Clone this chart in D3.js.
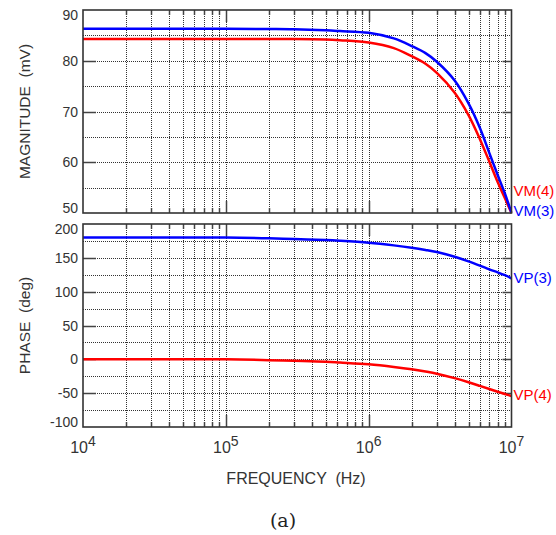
<!DOCTYPE html>
<html>
<head>
<meta charset="utf-8">
<script src="https://cdn.jsdelivr.net/npm/d3@7"></script>
<style>
  html, body { margin: 0; padding: 0; background: #fff; }
  svg { display: block; }
  text { font-family: "Liberation Sans", Arial, sans-serif; }
</style>
</head>
<body>
<svg id="chart" width="556" height="535"></svg>
<script>
// Frequency sweep points (Hz)
const freq = [1e4, 1e5, 2e5, 3e5, 5e5, 6.3e5, 1e6, 1.5e6, 2e6, 2.5e6, 3e6, 4e6, 5e6, 6e6, 7e6, 8e6, 9e6, 1e7];

// Magnitude (mV) of nodes 3 and 4
const vm3 = [86.3, 86.3, 86.25, 86.2, 86.0, 85.85, 85.5, 84.4, 82.9, 81.5, 79.8, 76.1, 71.6, 66.8, 61.8, 57.5, 53.8, 50.0];
const vm4 = [84.3, 84.3, 84.3, 84.3, 84.2, 84.05, 83.6, 82.5, 80.9, 79.4, 77.6, 73.7, 69.3, 64.6, 60.1, 56.1, 52.9, 50.0];

// Phase (deg) of nodes 3 and 4
const vp3 = [180.0, 180.0, 178.8, 177.8, 176.3, 175.2, 172.3, 168.4, 165.0, 161.7, 158.5, 151.5, 144.8, 138.6, 133.0, 128.6, 124.3, 119.7];
const vp4 = [0.0, 0.0, -1.2, -2.2, -3.6, -4.8, -7.4, -11.2, -14.6, -18.0, -21.2, -27.8, -33.8, -39.2, -43.9, -47.9, -51.3, -54.2];

// Axis ticks
const decades = [1e4, 1e5, 1e6, 1e7];
const decadeExp = ["4", "5", "6", "7"];
const magTicks = [50, 60, 70, 80, 90];
const phaseTicks = [-100, -50, 0, 50, 100, 150, 200];

const svg = d3.select("#chart");

const left = 83, right = 511.5;
const x = d3.scaleLog().domain([1e4, 1e7]).range([left, right]);

const panels = [
  {
    top: 10, bottom: 213, domain: [50, 90], ticks: magTicks, gridStep: 5,
    title: "MAGNITUDE  (mV)",
    series: [
      { values: vm4, color: "#ff0000", name: "VM(4)", dy: -22 },
      { values: vm3, color: "#0000ff", name: "VM(3)", dy: -2 }
    ]
  },
  {
    top: 224, bottom: 427, domain: [-100, 200], ticks: phaseTicks, gridStep: 25,
    title: "PHASE  (deg)",
    series: [
      { values: vp3, color: "#0000ff", name: "VP(3)", dy: -1 },
      { values: vp4, color: "#ff0000", name: "VP(4)", dy: -1 }
    ]
  }
];

// Minor x positions: 2..9 within each decade
const minorX = [];
[1e4, 1e5, 1e6].forEach(d => { for (let k = 2; k <= 9; k++) minorX.push(d * k); });
const innerDecades = [1e5, 1e6];

panels.forEach((p, i) => {
  const y = d3.scaleLinear().domain(p.domain).range([p.bottom, p.top]);
  const g = svg.append("g");

  // dotted grid
  const grid = g.append("g")
    .attr("stroke", "#333")
    .attr("stroke-width", 1)
    .attr("stroke-dasharray", "1,1")
    .attr("shape-rendering", "crispEdges");
  minorX.concat(innerDecades).forEach(f => {
    grid.append("line")
      .attr("x1", Math.round(x(f)) + 0.5).attr("x2", Math.round(x(f)) + 0.5)
      .attr("y1", p.top).attr("y2", p.bottom);
  });
  const hVals = d3.range(p.domain[0] + p.gridStep, p.domain[1], p.gridStep);
  hVals.forEach(v => {
    grid.append("line")
      .attr("x1", left).attr("x2", right)
      .attr("y1", Math.round(y(v)) + 0.5).attr("y2", Math.round(y(v)) + 0.5);
  });

  // solid ticks
  const ticks = g.append("g").attr("stroke", "#444").attr("stroke-width", 1.5);
  minorX.forEach(f => {
    const xx = Math.round(x(f)) + 0.5;
    ticks.append("line").attr("x1", xx).attr("x2", xx).attr("y1", p.top).attr("y2", p.top + 5);
    ticks.append("line").attr("x1", xx).attr("x2", xx).attr("y1", p.bottom - 5).attr("y2", p.bottom);
  });
  innerDecades.forEach(f => {
    const xx = Math.round(x(f)) + 0.5;
    ticks.append("line").attr("x1", xx).attr("x2", xx).attr("y1", p.top).attr("y2", p.top + 12);
    ticks.append("line").attr("x1", xx).attr("x2", xx).attr("y1", p.bottom - 12).attr("y2", p.bottom);
  });
  p.ticks.slice(1, -1).forEach(v => {
    const yy = Math.round(y(v)) + 0.5;
    ticks.append("line").attr("x1", left).attr("x2", left + 13).attr("y1", yy).attr("y2", yy);
    ticks.append("line").attr("x1", right - 9).attr("x2", right).attr("y1", yy).attr("y2", yy);
  });

  // y tick labels, kept inside the panel's height
  p.ticks.forEach(v => {
    const yy = Math.max(p.top + 5, Math.min(p.bottom - 5, y(v)));
    g.append("text")
      .attr("x", left - 5).attr("y", yy)
      .attr("dy", "0.36em")
      .attr("text-anchor", "end")
      .attr("font-size", 14)
      .attr("fill", "#333")
      .text(v);
  });

  // axis title
  g.append("text")
    .attr("transform", `translate(24,${(p.top + p.bottom) / 2}) rotate(-90)`)
    .attr("text-anchor", "middle")
    .attr("dy", "0.36em")
    .attr("font-size", 15.5)
    .attr("fill", "#333")
    .style("white-space", "pre")
    .text(p.title);

  // curves
  const clipId = "clip" + i;
  svg.append("clipPath").attr("id", clipId)
    .append("rect").attr("x", left).attr("y", p.top - 2)
    .attr("width", right - left + 1).attr("height", p.bottom - p.top + 3);

  const line = d3.line()
    .x((d, j) => x(freq[j]))
    .y(d => y(d))
    .curve(d3.curveCatmullRom.alpha(0.5));

  p.series.forEach(s => {
    g.append("path")
      .datum(s.values)
      .attr("clip-path", `url(#${clipId})`)
      .attr("fill", "none")
      .attr("stroke", s.color)
      .attr("stroke-width", 2.5)
      .attr("d", line);
    g.append("text")
      .attr("x", right + 2)
      .attr("y", y(s.values[s.values.length - 1]) + s.dy)
      .attr("dy", "0.36em")
      .attr("font-size", 15)
      .attr("fill", s.color)
      .text(s.name);
  });

  // frame
  g.append("rect")
    .attr("x", left).attr("y", p.top)
    .attr("width", right - left).attr("height", p.bottom - p.top)
    .attr("fill", "none")
    .attr("stroke", "#333")
    .attr("stroke-width", 1.6);
});

// x tick labels: 10 with superscript exponent
decades.forEach((d, i) => {
  const t = svg.append("text")
    .attr("x", x(d)).attr("y", 453)
    .attr("text-anchor", "middle")
    .attr("font-size", 16)
    .attr("fill", "#333");
  t.append("tspan").text("10");
  t.append("tspan").attr("dy", -7).attr("font-size", 14).text(decadeExp[i]);
});

svg.append("text")
  .attr("x", 296).attr("y", 484)
  .attr("text-anchor", "middle")
  .attr("font-size", 16)
  .attr("fill", "#333")
  .style("white-space", "pre")
  .text("FREQUENCY  (Hz)");

svg.append("text")
  .attr("x", 283).attr("y", 527)
  .attr("text-anchor", "middle")
  .attr("font-size", 19)
  .attr("fill", "#222")
  .style("font-family", "'DejaVu Serif', 'Liberation Serif', serif")
  .text("(a)");
</script>
</body>
</html>
